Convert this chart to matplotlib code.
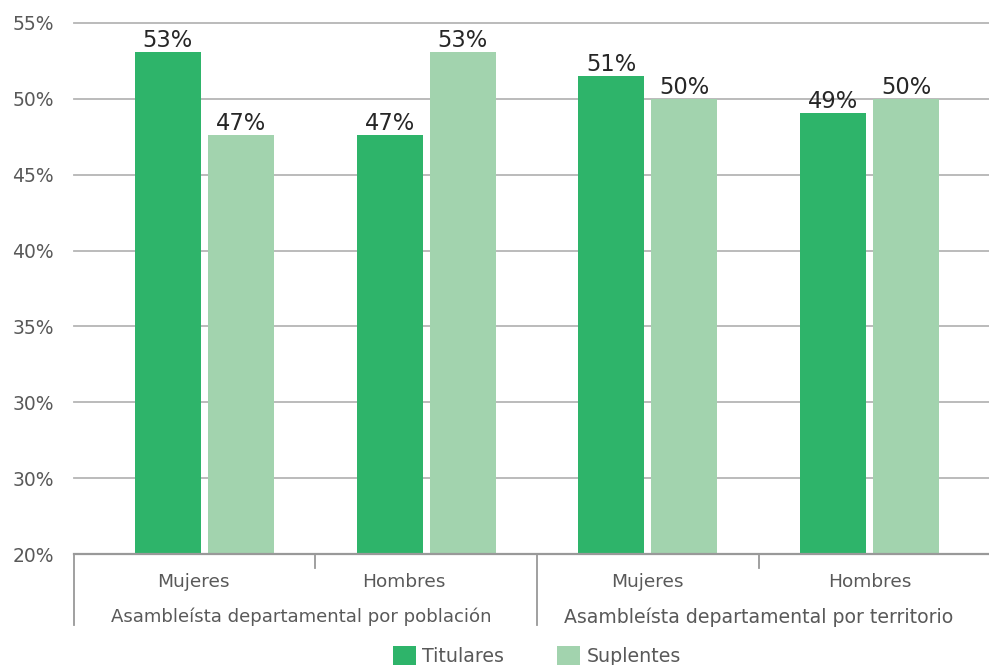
import matplotlib
matplotlib.use("Agg")
import matplotlib.pyplot as plt
import matplotlib.transforms as mtransforms
from matplotlib.patches import Patch
import numpy as np

# ---- data ----
categories = ["Mujeres", "Hombres", "Mujeres", "Hombres"]
groups = ["Asambleísta departamental por población", "Asambleísta departamental por territorio"]
series_names = ["Titulares", "Suplentes"]
titulares = [53.1, 47.6, 51.5, 49.05]
suplentes = [47.6, 53.1, 50.0, 50.0]
titulares_labels = ["53%", "47%", "51%", "49%"]
suplentes_labels = ["47%", "53%", "50%", "50%"]
y_ticks = [20, 25, 30, 35, 40, 45, 50, 55]
y_tick_labels = ["20%", "30%", "30%", "35%", "40%", "45%", "50%", "55%"]

# ---- style ----
c_tit = "#2EB46A"
c_sup = "#A2D3AE"
txt_gray = "#595959"
txt_dark = "#262626"

W, H = 989, 665
fig = plt.figure(figsize=(W / 100, H / 100), dpi=100)
left_px, right_px, top_px, bot_px = 73.5, 989, 23, 554
ax = fig.add_axes([left_px / W, 1 - bot_px / H, (right_px - left_px) / W, (bot_px - top_px) / H])
ax_h_px = bot_px - top_px

x = np.arange(len(categories))
bw = 0.298
off = 0.165
b1 = ax.bar(x - off, titulares, bw, color=c_tit, zorder=3)
b2 = ax.bar(x + off, suplentes, bw, color=c_sup, zorder=3)

for bars, labs in ((b1, titulares_labels), (b2, suplentes_labels)):
    for r, lab in zip(bars, labs):
        ax.annotate(lab, (r.get_x() + r.get_width() / 2, r.get_height()),
                    xytext=(0, 0), textcoords="offset points",
                    ha="center", va="bottom", fontsize=16.3, color=txt_dark, zorder=4)

ax.set_ylim(20, 55)
ax.set_xlim(-0.591, 3.539)
ax.set_yticks(y_ticks)
ax.set_yticklabels(y_tick_labels, fontsize=13.5, color=txt_gray)
ax.tick_params(axis="y", length=0, pad=14)
ax.set_xticks([])
ax.yaxis.grid(True, color="#B5B5B5", lw=1.3, zorder=0)
for gl in ax.get_ygridlines():
    gl.set_clip_on(False)
for s in ("top", "right", "left"):
    ax.spines[s].set_visible(False)
ax.spines["bottom"].set_color("#999999")
ax.spines["bottom"].set_linewidth(1.6)
ax.spines["bottom"].set_zorder(5)

trans = mtransforms.blended_transform_factory(ax.transData, ax.transAxes)
# small ticks between categories inside a group
for xt in (0.5, 2.5):
    ax.plot([xt, xt], [0, -14 / ax_h_px], transform=trans, color="#999999", lw=1.3, clip_on=False)
# group separators
for xs in (-0.591, 1.5):
    ax.plot([xs, xs], [0, -71 / ax_h_px], transform=trans, color="#999999", lw=1.3, clip_on=False)

cat_dx = [-0.05, -0.1, 0.0, 0.0]
for xi, lab, dx in zip(x, categories, cat_dx):
    ax.text(xi + dx, -28 / ax_h_px, lab, transform=trans, ha="center", va="center",
            fontsize=13.3, color=txt_gray)
group_pos = [(-0.591 + 1.5) / 2 - 0.02, (1.5 + 3.5) / 2]
group_fs = [13.1, 13.6]
for gx, g, fs in zip(group_pos, groups, group_fs):
    ax.text(gx, -63 / ax_h_px, g, transform=trans, ha="center", va="center",
            fontsize=fs, color=txt_gray)

handles = [Patch(facecolor=c_tit, edgecolor="none"), Patch(facecolor=c_sup, edgecolor="none")]
fig.legend(handles, series_names, loc="center", bbox_to_anchor=(537 / W, 1 - 656 / H),
           ncol=2, frameon=False, fontsize=13.7, handlelength=1.2, handleheight=1.2,
           handletextpad=0.35, columnspacing=2.8, labelcolor=txt_gray,
           borderaxespad=0, borderpad=0)

fig.savefig("out.png", dpi=100)
